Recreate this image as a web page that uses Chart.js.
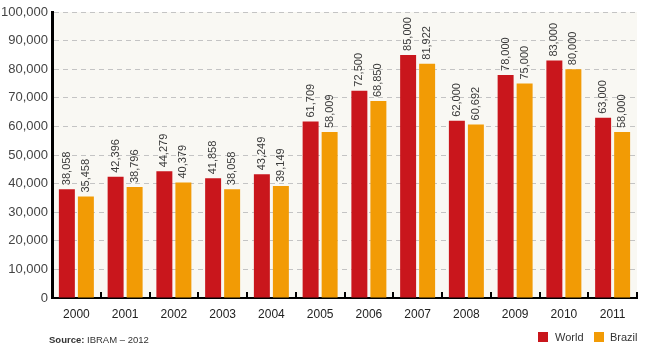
<!DOCTYPE html>
<html>
<head>
<meta charset="utf-8">
<script src="https://cdn.jsdelivr.net/npm/chart.js@4.4.0/dist/chart.umd.min.js"></script>
<style>
  body { margin: 0; background: #fff; font-family: 'Liberation Sans Narrow', 'Arial Narrow', 'Liberation Sans', sans-serif; }
  #wrap { position: relative; width: 650px; height: 355px; }
  #source { position: absolute; left: 49px; top: 334px; font-size: 9.5px; color: #333; }
  .lg { position: absolute; top: 331px; font-size: 11px; color: #333; line-height: 12px; }
  .sw { position: absolute; top: 332px; width: 10px; height: 10px; }
</style>
</head>
<body>
<div id="wrap">
  <canvas id="chart" width="650" height="355"></canvas>
  <div id="source"><b>Source:</b> IBRAM – 2012</div>
  <span class="sw" style="left:538px; background:#c9161c"></span>
  <span class="lg" style="left:555px">World</span>
  <span class="sw" style="left:594px; background:#f29b05"></span>
  <span class="lg" style="left:610px">Brazil</span>
</div>
<script>
const years = ['2000','2001','2002','2003','2004','2005','2006','2007','2008','2009','2010','2011'];
const world = [38058, 42396, 44279, 41858, 43249, 61709, 72500, 85000, 62000, 78000, 83000, 63000];
const brazil = [35458, 38796, 40379, 38058, 39149, 58009, 68850, 81922, 60692, 75000, 80000, 58000];

const FONT = "'Liberation Sans Narrow', 'Arial Narrow', 'Liberation Sans', sans-serif";

// light background behind the plot area
const plotBg = {
    id: 'plotBg',
    beforeDraw(chart) {
        const { ctx, chartArea: a } = chart;
        ctx.save();
        ctx.fillStyle = '#f9f8f3';
        ctx.fillRect(a.left, a.top, a.right - a.left, a.bottom - a.top);
        ctx.restore();
    }
};

// rotated value labels on top of bars, small tick marks between years
const extras = {
    id: 'extras',
    afterDatasetsDraw(chart) {
        const { ctx, chartArea: a } = chart;
        ctx.save();
        ctx.font = '11px ' + FONT;
        ctx.fillStyle = '#3a3a3a';
        ctx.textAlign = 'left';
        ctx.textBaseline = 'middle';
        chart.data.datasets.forEach((ds, di) => {
            chart.getDatasetMeta(di).data.forEach((bar, i) => {
                ctx.save();
                ctx.translate(bar.x, bar.y - 4);
                ctx.rotate(-Math.PI / 2);
                ctx.fillText(ds.data[i].toLocaleString('en-US'), 0, 0);
                ctx.restore();
            });
        });
        const step = (a.right - a.left) / years.length;
        ctx.fillStyle = '#000';
        for (let i = 1; i <= years.length; i++) {
            const x = Math.round(a.left + step * i);
            ctx.fillRect(x - 1, a.bottom - 6, 2, 6);
        }
        ctx.restore();
    }
};

new Chart(document.getElementById('chart'), {
    type: 'bar',
    data: {
        labels: years,
        datasets: [
            { label: 'World', data: world, backgroundColor: '#c9161c' },
            { label: 'Brazil', data: brazil, backgroundColor: '#f29b05' }
        ]
    },
    options: {
        responsive: false,
        animation: false,
        layout: { padding: { top: 12, right: 13, left: 0, bottom: 0 } },
        datasets: { bar: { categoryPercentage: 0.78, barPercentage: 0.84 } },
        plugins: { legend: { display: false }, tooltip: { enabled: false } },
        scales: {
            x: {
                grid: { display: false, drawTicks: false },
                border: { display: true, color: '#000', width: 2 },
                ticks: { color: '#222', font: { family: FONT, size: 12 }, padding: 9 },
                afterFit(s) { s.height = 57; }
            },
            y: {
                min: 0, max: 100000,
                ticks: {
                    stepSize: 10000, color: '#444', padding: 4,
                    font: { family: FONT, size: 13 },
                    callback: v => v.toLocaleString('en-US')
                },
                grid: { color: '#c4c4c4', drawTicks: false },
                border: { display: true, color: '#000', width: 3, dash: [5, 4] },
                afterFit(s) { s.width = 52; }
            }
        }
    },
    plugins: [plotBg, extras]
});
</script>
</body>
</html>
